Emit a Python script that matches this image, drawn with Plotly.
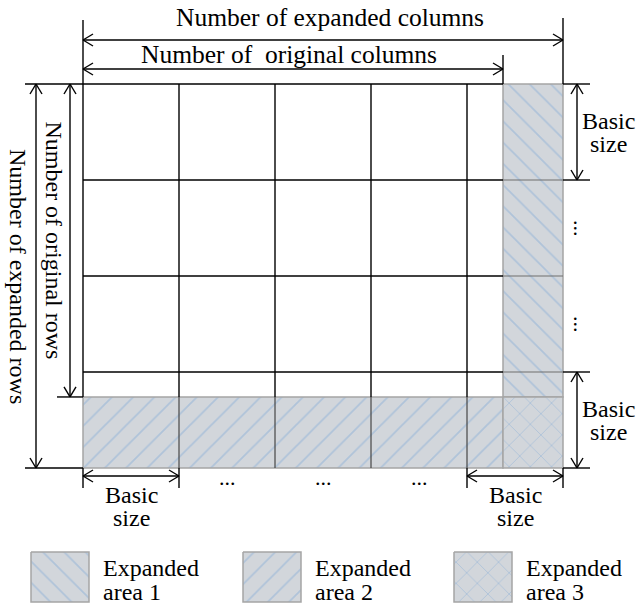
import plotly.graph_objects as go

# ---------------- data ----------------
expanded_cols = 5          # number of basic-size columns after expansion
expanded_rows = 4          # number of basic-size rows after expansion
original_cols = 4.375      # original width in basic-size units
original_rows = 3.26       # original height in basic-size units

top_labels = ["Number of expanded columns", "Number of\u00a0\u00a0original columns"]
left_labels = ["Number of expanded rows", "Number of original rows"]
basic_label = ["Basic", "size"]
dots_label = "..."
legend_labels = [["Expanded", "area 1"], ["Expanded", "area 2"], ["Expanded", "area 3"]]
legend_patterns = ["\\", "/", "x"]

# ---------------- layout constants ----------------
W, H = 637, 608
X0, Y0, CELL = 83, 84, 96
FONT = "Liberation Serif, Times New Roman, serif"
FS = 24
HATCH_BG = "rgb(210,214,219)"
HATCH_FG = "rgb(140,176,216)"
HATCH_EDGE = "rgb(165,165,165)"


def px(u):
    return X0 + CELL * u


def py(v):
    return Y0 + CELL * v


shapes = []
annotations = []


def line(x0, y0, x1, y1, color="black", w=1.4):
    shapes.append(dict(type="line", x0=x0, y0=y0, x1=x1, y1=y1, xref="x", yref="y",
                       line=dict(color=color, width=w)))


def chevron(tx, ty, dx, dy, L=10, Wd=6):
    nx, ny = -dy, dx
    for s in (1, -1):
        line(tx, ty, tx - L * dx + s * Wd * nx, ty - L * dy + s * Wd * ny)


def arrow(x0, y0, x1, y1):
    line(x0, y0, x1, y1)
    d = ((x1 - x0) ** 2 + (y1 - y0) ** 2) ** 0.5
    dx, dy = (x1 - x0) / d, (y1 - y0) / d
    chevron(x1, y1, dx, dy)
    chevron(x0, y0, -dx, -dy)


def text(x, y, s, angle=0, xanchor="center", size=FS):
    annotations.append(dict(x=x, y=y, xref="x", yref="y", text=s, showarrow=False,
                            textangle=angle, xanchor=xanchor, yanchor="middle",
                            font=dict(family=FONT, size=size, color="black")))


fig = go.Figure()


def hatch(xs, ys, shape):
    fig.add_trace(go.Scatter(
        x=xs + [xs[0]], y=ys + [ys[0]], mode="lines", fill="toself",
        fillcolor=HATCH_BG,
        fillpattern=dict(shape=shape, bgcolor=HATCH_BG, fgcolor=HATCH_FG,
                         size=15, solidity=0.12),
        line=dict(color=HATCH_EDGE, width=1.5), hoverinfo="skip", showlegend=False))


xo, yo = px(original_cols), py(original_rows)
xe, ye = px(expanded_cols), py(expanded_rows)

# expanded areas
hatch([xo, xe, xe, xo], [py(0), py(0), yo, yo], "\\")
hatch([px(0), xo, xo, px(0)], [yo, yo, ye, ye], "/")
hatch([xo, xe, xe, xo], [yo, yo, ye, ye], "x")

# grid lines
for r in range(1, expanded_rows):
    line(px(0), py(r), xo, py(r))
    line(xo, py(r), xe, py(r), color="rgb(110,110,110)", w=1.2)
for c in range(1, expanded_cols):
    line(px(c), py(0), px(c), yo)
    line(px(c), yo, px(c), ye, color="rgb(70,70,70)", w=1.2)
line(px(0), py(0), px(0), yo)
line(px(0), py(0), xo, py(0))

# top dimensions
line(px(0), 20, px(0), py(0))
line(xe, 18, xe, py(0))
line(xo, 55, xo, py(0))
arrow(px(0), 40, xe, 40)
arrow(px(0), 69, xo, 69)
text(330, 17, top_labels[0], size=25.5)
text(289, 54, top_labels[1], size=25.5)

# left dimensions
line(25, py(0), px(0), py(0))
line(57, yo, px(0), yo)
line(25, ye, px(0), ye)
arrow(36, py(0), 36, ye)
arrow(70, py(0), 70, yo)
text(18, (py(0) + ye) / 2, left_labels[0], angle=90)
text(54, (py(0) + yo) / 2, left_labels[1], angle=90)

# right dimensions
for r in (0, 1, expanded_rows - 1, expanded_rows):
    line(xe, py(r), xe + 27, py(r))
arrow(xe + 14, py(0), xe + 14, py(1))
arrow(xe + 14, py(expanded_rows - 1), xe + 14, ye)
for r in (0, expanded_rows - 1):
    yc = (py(r) + py(r + 1)) / 2
    text(xe + 45, yc - 11, basic_label[0])
    text(xe + 45, yc + 12, basic_label[1])
for r in (1, 2):
    text(xe + 19, (py(r) + py(r + 1)) / 2, dots_label, angle=90, size=22)

# bottom dimensions
for c in (0, 1, expanded_cols - 1, expanded_cols):
    line(px(c), ye, px(c), ye + 20)
arrow(px(0), ye + 8, px(1), ye + 8)
arrow(px(expanded_cols - 1), ye + 8, xe, ye + 8)
for c in (0, expanded_cols - 1):
    xc = (px(c) + px(c + 1)) / 2
    text(xc, ye + 27, basic_label[0])
    text(xc, ye + 50, basic_label[1])
for c in (1, 2, 3):
    text((px(c) + px(c + 1)) / 2, ye + 9, dots_label, size=22)

# legend
sw_x = [31, 243, 454]
for i, (lbl, pat) in enumerate(zip(legend_labels, legend_patterns)):
    x0 = sw_x[i]
    hatch([x0, x0 + 58, x0 + 58, x0], [552, 552, 602, 602], pat)
    text(x0 + 70, 568, lbl[0], xanchor="left")
    text(x0 + 70, 592, lbl[1], xanchor="left")

fig.update_layout(
    width=W, height=H, margin=dict(l=0, r=0, t=0, b=0),
    plot_bgcolor="white", paper_bgcolor="white",
    xaxis=dict(range=[0, W], visible=False, fixedrange=True),
    yaxis=dict(range=[H, 0], visible=False, fixedrange=True),
    shapes=shapes, annotations=annotations, showlegend=False,
)
fig.write_html("out.html", config={"displayModeBar": False},
               post_script="document.body.style.margin='0';document.body.style.overflow='hidden';")
